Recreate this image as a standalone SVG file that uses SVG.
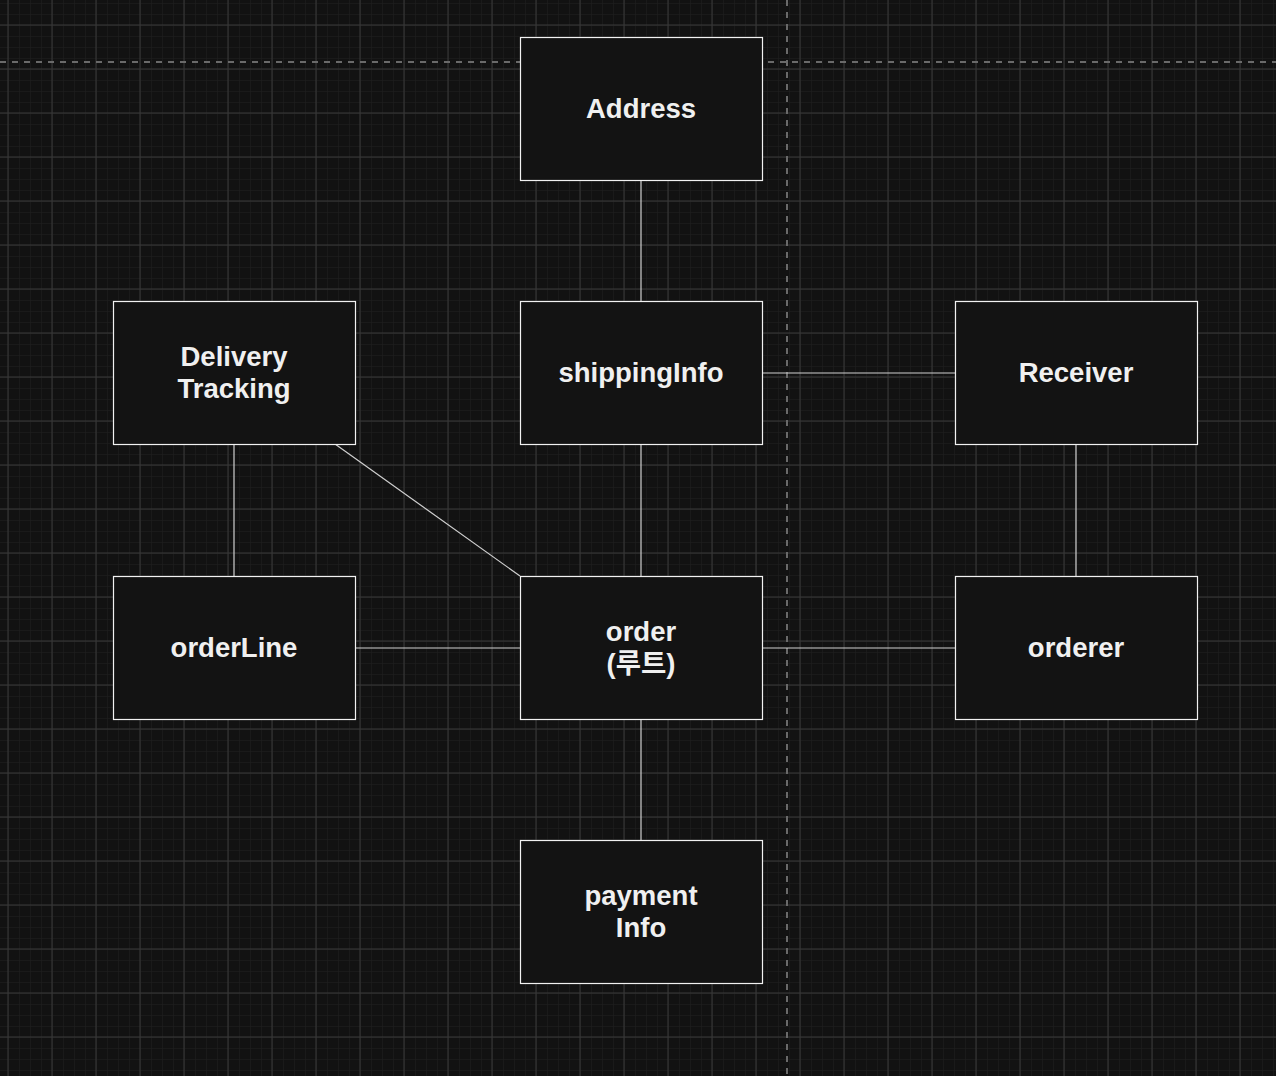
<svg xmlns="http://www.w3.org/2000/svg" width="1276" height="1076" viewBox="0 0 1276 1076">
<style>
.node rect{fill:#131313;stroke:#f2f2f2;stroke-width:1.2}
.node text{fill:#f0f0f0;font-family:"Liberation Sans",Arial,"Noto Sans CJK KR",sans-serif;font-weight:bold;font-size:27.5px;text-anchor:middle}
.conn line{stroke:#d0d0d0;stroke-width:1.2}
.guide{stroke:#6a6a6a;stroke-width:2;stroke-dasharray:6 6;fill:none}
</style>
<defs>
<pattern id="minor" x="8" y="25" width="11" height="11" patternUnits="userSpaceOnUse">
<path d="M0 0H11M0 0V11" stroke="#1d1d1d" stroke-width="1.5" fill="none"/>
</pattern>
<pattern id="major" x="7.5" y="24.5" width="44" height="44" patternUnits="userSpaceOnUse">
<path d="M0 0.5H44M0.5 0V44" stroke="#393939" stroke-width="1" fill="none"/>
</pattern>
</defs>
<rect width="1276" height="1076" fill="#121212"/>
<rect width="1276" height="1076" fill="url(#minor)"/>
<rect width="1276" height="1076" fill="url(#major)"/>
<path class="guide" d="M0 62H1276M787 0V1076"/>
<g class="conn" id="connectors">
<line x1="641" y1="180" x2="641" y2="301"/>
<line x1="641" y1="444" x2="641" y2="576"/>
<line x1="641" y1="719" x2="641" y2="840"/>
<line x1="762" y1="373" x2="955" y2="373"/>
<line x1="762" y1="648" x2="955" y2="648"/>
<line x1="355" y1="648" x2="520" y2="648"/>
<line x1="234" y1="444" x2="234" y2="576"/>
<line x1="1076" y1="444" x2="1076" y2="576"/>
<line x1="335" y1="444" x2="520" y2="576"/>
</g>
<g class="node" id="address"><rect x="520.5" y="37.5" width="242" height="143"/><text x="641" y="118">Address</text></g>
<g class="node" id="delivery-tracking"><rect x="113.5" y="301.5" width="242" height="143"/><text x="234" y="366">Delivery</text><text x="234" y="398">Tracking</text></g>
<g class="node" id="shipping-info"><rect x="520.5" y="301.5" width="242" height="143"/><text x="641" y="382">shippingInfo</text></g>
<g class="node" id="receiver"><rect x="955.5" y="301.5" width="242" height="143"/><text x="1076" y="382">Receiver</text></g>
<g class="node" id="order-line"><rect x="113.5" y="576.5" width="242" height="143"/><text x="234" y="657">orderLine</text></g>
<g class="node" id="order"><rect x="520.5" y="576.5" width="242" height="143"/><text x="641" y="641">order</text><text x="641" y="673">(루트)</text></g>
<g class="node" id="orderer"><rect x="955.5" y="576.5" width="242" height="143"/><text x="1076" y="657">orderer</text></g>
<g class="node" id="payment-info"><rect x="520.5" y="840.5" width="242" height="143"/><text x="641" y="905">payment</text><text x="641" y="937">Info</text></g>
</svg>
